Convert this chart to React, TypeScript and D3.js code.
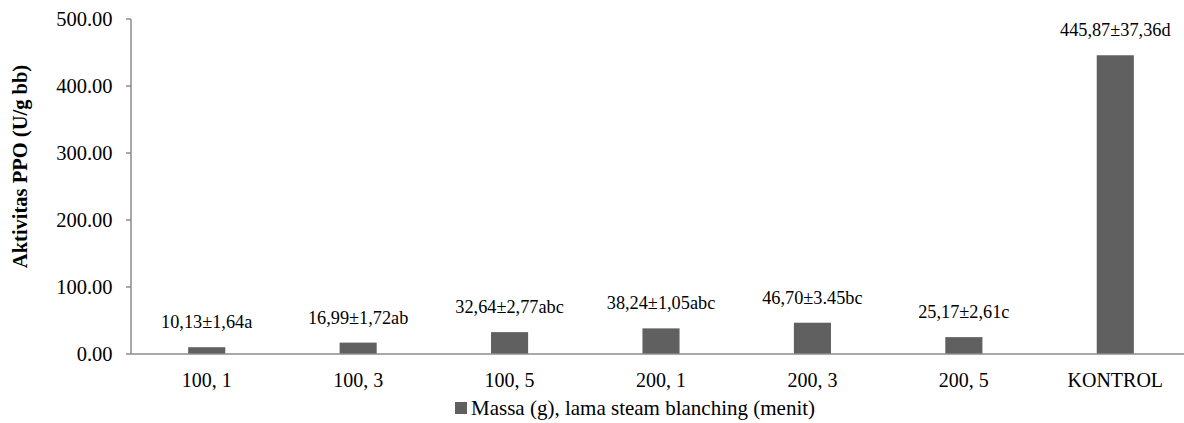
import React from "react";
import * as d3 from "d3";

const categories = ["100, 1", "100, 3", "100, 5", "200, 1", "200, 3", "200, 5", "KONTROL"];
const values = [10.13, 16.99, 32.64, 38.24, 46.7, 25.17, 445.87];
const valueLabels = [
  "10,13±1,64a",
  "16,99±1,72ab",
  "32,64±2,77abc",
  "38,24±1,05abc",
  "46,70±3.45bc",
  "25,17±2,61c",
  "445,87±37,36d",
];
const yTicks = [0, 100, 200, 300, 400, 500];
const yTitle = "Aktivitas PPO (U/g bb)";
const legendLabel = "Massa (g), lama steam blanching (menit)";

const W = 1184;
const H = 423;
const FONT = '"Liberation Serif", "DejaVu Serif", serif';
const BAR = "#606060";
const AXIS = "#8c8c8c";

export default function App() {
  const x = d3
    .scaleBand<string>()
    .domain(categories)
    .range([131, 1191])
    .paddingInner(0.755)
    .paddingOuter(0.3775);
  const y = d3.scaleLinear().domain([0, 500]).range([354, 19]);
  const fmt = d3.format(".2f");

  return (
    <div style={{ position: "fixed", left: 0, top: 0 }}>
      <svg width={W} height={H} style={{ display: "block", background: "#fff", fontFamily: FONT }}>
        {/* y axis */}
        <line x1={131} x2={131} y1={y(500)} y2={y(0)} stroke={AXIS} strokeWidth={1.5} />
        {yTicks.map((t) => (
          <g key={t}>
            <line x1={126} x2={131} y1={y(t)} y2={y(t)} stroke={AXIS} strokeWidth={1.5} />
            <text x={112.5} y={y(t)} dy="0.35em" textAnchor="end" fontSize={20.5} fill="#000">
              {fmt(t)}
            </text>
          </g>
        ))}
        <text
          transform={`translate(27,${166.5}) rotate(-90)`}
          textAnchor="middle"
          fontSize={20.5}
          fontWeight="bold"
          fill="#000"
        >
          {yTitle}
        </text>
        {/* bars */}
        {categories.map((c, i) => {
          const bx = x(c)!;
          const bw = x.bandwidth();
          return (
            <g key={c}>
              <rect x={bx} y={y(values[i])} width={bw} height={y(0) - y(values[i])} fill={BAR} />
              <text x={bx + bw / 2} y={y(values[i]) - 19} textAnchor="middle" fontSize={18.3} fill="#000">
                {valueLabels[i]}
              </text>
              <text x={bx + bw / 2} y={387} textAnchor="middle" fontSize={20} fill="#000">
                {c}
              </text>
            </g>
          );
        })}
        {/* x axis */}
        <line x1={131} x2={W} y1={y(0)} y2={y(0)} stroke={AXIS} strokeWidth={1.5} />
        {/* legend */}
        <rect x={455} y={402} width={12} height={12} fill={BAR} />
        <text x={471} y={415} fontSize={21} fill="#000">
          {legendLabel}
        </text>
      </svg>
    </div>
  );
}
